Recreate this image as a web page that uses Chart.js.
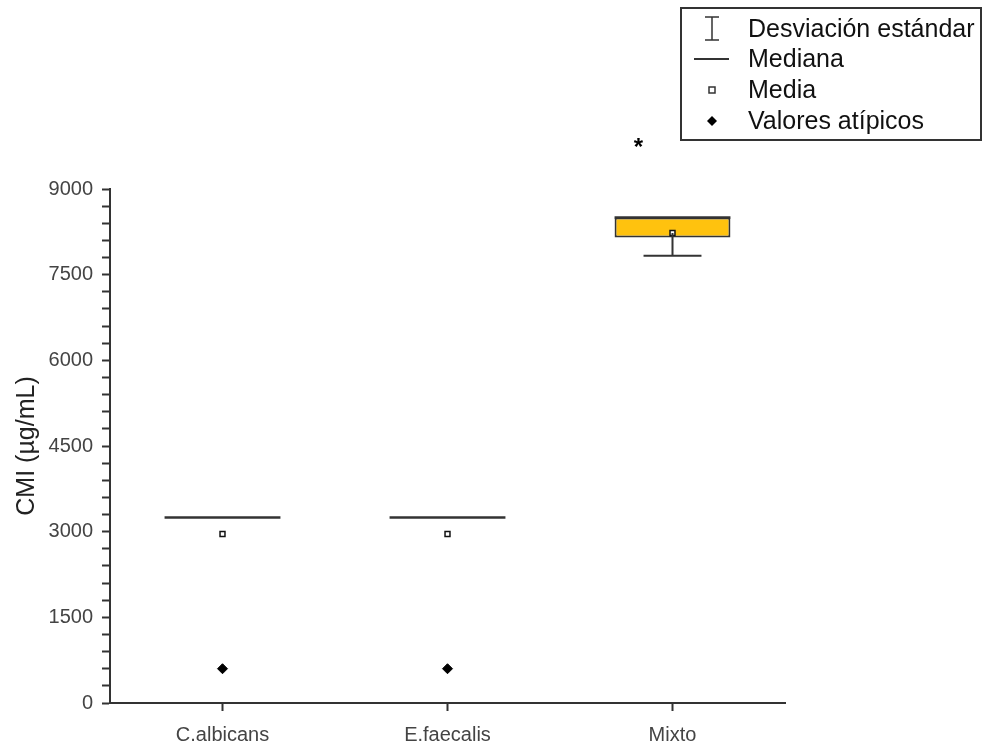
<!DOCTYPE html>
<html lang="es">
<head>
<meta charset="UTF-8">
<title>CMI</title>
<script src="https://cdn.jsdelivr.net/npm/chart.js"></script>
<style>
  html, body { margin: 0; padding: 0; background: #fff; }
  #wrap { width: 984px; height: 748px; }
</style>
</head>
<body>
<div id="wrap"><canvas id="cmiChart" width="984" height="748"></canvas></div>
<script>
// data
const categories = ["C.albicans", "E.faecalis", "Mixto"];
const boxLow = [null, null, 8150];
const boxHigh = [null, null, 8500];
const medians = [3250, 3250, 8500];
const means = [2960, 2960, 8230];
const sdLower = [null, null, 7830];
const outliers = [600, 600, null];
const yMin = 0, yMax = 9000, yMajorStep = 1500, yMinorStep = 300;
const legendLabels = ["Desviación estándar", "Mediana", "Media", "Valores atípicos"];
const starCategory = 2;

const INK = "#333";
const FONT = "'Liberation Sans', Arial, sans-serif";
const BAR_FRACTION = 0.515;

function halfBox(ctx) {
    const xs = ctx.chart.scales.x;
    if (!xs) return 58;
    return xs.width / categories.length * BAR_FRACTION / 2;
}

// standard deviation whisker (from mean downward) + star annotation
const whiskerPlugin = {
    id: "whiskers",
    afterDatasetsDraw(chart) {
        const { ctx, scales: { x, y } } = chart;
        ctx.save();
        ctx.strokeStyle = INK;
        ctx.lineWidth = 2;
        sdLower.forEach((v, i) => {
            if (v == null) return;
            const px = x.getPixelForValue(i);
            const top = y.getPixelForValue(means[i]);
            const bot = y.getPixelForValue(v);
            const cap = x.width / categories.length * BAR_FRACTION / 4;
            ctx.beginPath();
            ctx.moveTo(px, top);
            ctx.lineTo(px, bot);
            ctx.moveTo(px - cap, bot);
            ctx.lineTo(px + cap, bot);
            ctx.stroke();
        });
        ctx.restore();
    },
    afterDraw(chart) {
        const { ctx, scales: { x } } = chart;
        ctx.save();
        ctx.fillStyle = "#000";
        ctx.font = "bold 24px " + FONT;
        ctx.textAlign = "center";
        ctx.textBaseline = "middle";
        ctx.fillText("*", x.getPixelForValue(starCategory) - 34, 148);
        ctx.restore();
    }
};

// boxed legend in the upper right corner
const legendPlugin = {
    id: "boxLegend",
    afterDraw(chart) {
        const ctx = chart.ctx;
        const left = 681, top = 8, w = 300, h = 132;
        const rows = [29, 59, 90, 121];
        const sx = 712;
        ctx.save();
        ctx.strokeStyle = INK;
        ctx.lineWidth = 2;
        ctx.strokeRect(left, top, w, h);

        ctx.lineWidth = 1.5;
        ctx.beginPath();
        ctx.moveTo(sx, rows[0] - 12); ctx.lineTo(sx, rows[0] + 11);
        ctx.moveTo(sx - 7, rows[0] - 12); ctx.lineTo(sx + 7, rows[0] - 12);
        ctx.moveTo(sx - 7, rows[0] + 11); ctx.lineTo(sx + 7, rows[0] + 11);
        ctx.stroke();

        ctx.lineWidth = 2;
        ctx.beginPath();
        ctx.moveTo(694, rows[1]); ctx.lineTo(729, rows[1]);
        ctx.stroke();

        ctx.fillStyle = "#fff";
        ctx.lineWidth = 1.5;
        ctx.fillRect(sx - 3, rows[2] - 3, 6, 6);
        ctx.strokeRect(sx - 3, rows[2] - 3, 6, 6);

        ctx.fillStyle = "#000";
        ctx.beginPath();
        ctx.moveTo(sx, rows[3] - 5); ctx.lineTo(sx + 5, rows[3]);
        ctx.lineTo(sx, rows[3] + 5); ctx.lineTo(sx - 5, rows[3]);
        ctx.closePath();
        ctx.fill();

        ctx.fillStyle = "#111";
        ctx.font = "25px " + FONT;
        ctx.textAlign = "left";
        ctx.textBaseline = "middle";
        legendLabels.forEach((t, i) => ctx.fillText(t, 748, rows[i] + 1));
        ctx.restore();
    }
};

new Chart(document.getElementById("cmiChart"), {
    type: "bar",
    data: {
        labels: categories,
        datasets: [
            {
                label: "Caja",
                data: categories.map((c, i) => boxLow[i] == null ? null : [boxLow[i], boxHigh[i]]),
                backgroundColor: "#FFC20E",
                borderColor: INK,
                borderWidth: 2,
                borderSkipped: false,
                categoryPercentage: 1,
                barPercentage: BAR_FRACTION,
                order: 3
            },
            {
                type: "line",
                label: "Mediana",
                data: medians,
                showLine: false,
                pointStyle: "line",
                pointRadius: halfBox,
                borderColor: INK,
                pointBorderWidth: 2.5,
                order: 2
            },
            {
                type: "line",
                label: "Media",
                data: means,
                showLine: false,
                pointStyle: "rect",
                pointRadius: 3.5,
                pointBackgroundColor: "#fff",
                pointBorderColor: "#111",
                pointBorderWidth: 1.5,
                order: 0
            },
            {
                type: "line",
                label: "Valores atípicos",
                data: outliers,
                showLine: false,
                pointStyle: "rectRot",
                pointRadius: 5,
                pointBackgroundColor: "#000",
                pointBorderColor: "#000",
                pointBorderWidth: 1,
                order: 1
            }
        ]
    },
    options: {
        responsive: false,
        animation: false,
        events: [],
        layout: { padding: { top: 189, right: 199, left: 0, bottom: 0 } },
        plugins: { legend: { display: false }, tooltip: { enabled: false } },
        scales: {
            x: {
                type: "category",
                offset: true,
                grid: { offset: false, drawOnChartArea: false, tickLength: 8, tickColor: INK, tickWidth: 2 },
                border: { display: true, color: INK, width: 2 },
                ticks: { color: "#444", padding: 12, font: { family: FONT, size: 20 } },
                afterFit(s) { s.height = 45; }
            },
            y: {
                min: yMin,
                max: yMax,
                grid: { drawOnChartArea: false, tickLength: 8, tickColor: INK, tickWidth: 2 },
                border: { display: true, color: INK, width: 2 },
                ticks: {
                    stepSize: yMinorStep,
                    autoSkip: false,
                    color: "#444",
                    padding: 9,
                    font: { family: FONT, size: 20 },
                    callback: v => v % yMajorStep === 0 ? String(v) : ""
                },
                title: {
                    display: true,
                    text: "CMI (µg/mL)",
                    color: "#222",
                    font: { family: FONT, size: 25 },
                    padding: { top: 12, bottom: 0 }
                },
                afterFit(s) { s.width = 110; }
            }
        }
    },
    plugins: [whiskerPlugin, legendPlugin]
});
</script>
</body>
</html>
